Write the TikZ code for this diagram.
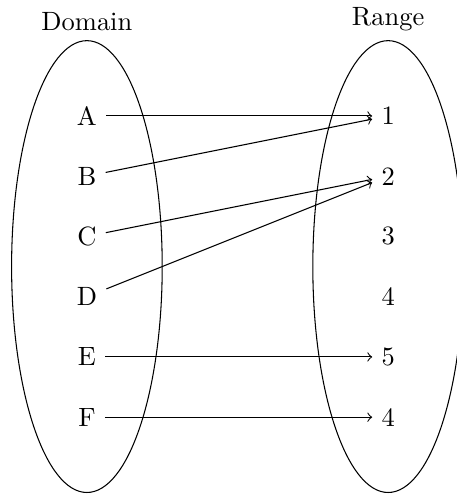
\documentclass[tikz,border=0pt]{standalone}
\usetikzlibrary{shapes.geometric}
\begin{document}
\begin{tikzpicture}
\tikzset{
  setshape/.style={draw, ellipse, minimum width=2cm, minimum height=6cm, inner sep=0pt},
  mapline/.style={->}
}
\useasboundingbox (-1.154,-3.02) rectangle (4.907,3.54);
\node[setshape] (dom) at (0,0) {};
\node[setshape] (ran) at (4,0) {};
\node[above] (dlab) at (dom.north) {Domain};
\node[above] (rlab) at (ran.north) {Range};
\node (A) at (0,2) {A};
\node (B) at (0,1.2) {B};
\node (C) at (0,0.4) {C};
\node (D) at (0,-0.4) {D};
\node (E) at (0,-1.2) {E};
\node (F) at (0,-2) {F};
\node (r1) at (4,2) {1};
\node (r2) at (4,1.2) {2};
\node (r3) at (4,0.4) {3};
\node (r4) at (4,-0.4) {4};
\node (r5) at (4,-1.2) {5};
\node (r6) at (4,-2) {4};
\draw[mapline] (A) -- (r1);
\draw[mapline] (B) -- (r1);
\draw[mapline] (C) -- (r2);
\draw[mapline] (D) -- (r2);
\draw[mapline] (E) -- (r5);
\draw[mapline] (F) -- (r6);
\end{tikzpicture}
\end{document}
